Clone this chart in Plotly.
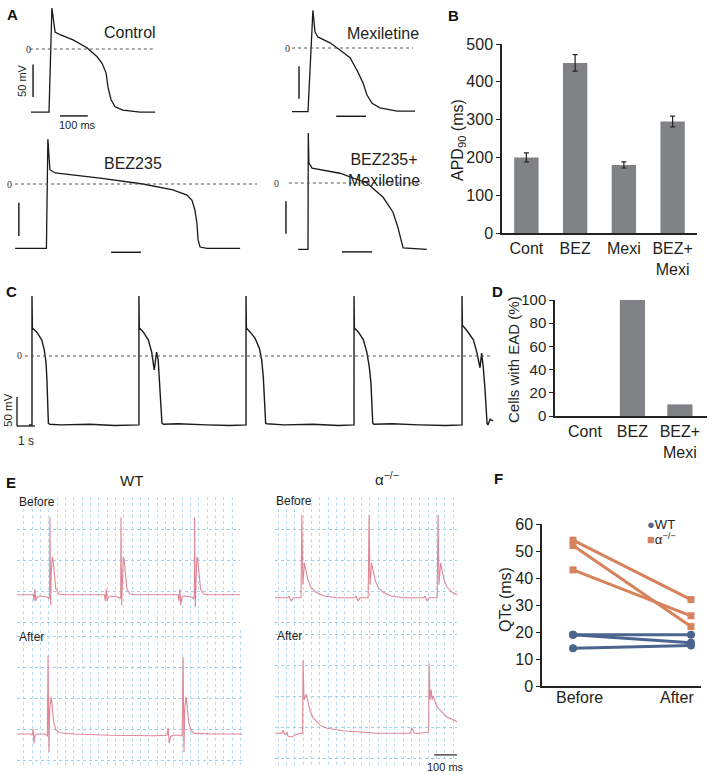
import plotly.graph_objects as go

W, H = 714, 775
SANS = "Arial, 'Liberation Sans', Helvetica, sans-serif"
SERIF = "'Times New Roman', 'Liberation Serif', serif"
INK = "#231f20"

# ---------------- Panel A : action potentials (time ms, Vm mV) ----------------
ctrl_t = [-62, 0, 10, 21, 38, 83, 131, 166, 183, 197, 203, 214, 228, 255, 314, 366]
ctrl_v = [-97, -97, 63, 26, 22, 14, 2, -12, -22, -37, -58, -78, -89, -94, -97, -97]
mexi_t = [-55, 0, 17, 24, 34, 76, 110, 145, 172, 190, 203, 221, 248, 307, 369]
mexi_v = [-98, -98, 58, 25, 17, 8, -3, -15, -37, -54, -72, -85, -92, -97, -97]
bez_t = [-110, -2, 3, 10, 28, 183, 331, 434, 483, 500, 510, 517, 521, 528, 552, 666]
bez_v = [-99, -99, 69, 22, 17, 9, 0, -9, -17, -25, -40, -60, -86, -97, -99, -99]
bezmexi_t = [-34, 0, 1, 3, 14, 110, 203, 259, 293, 310, 321, 328, 410]
bezmexi_v = [-102, -102, 77, 31, 23, 15, 0, -22, -45, -68, -88, -100, -102]

# ---------------- Panel B : APD90 (ms) ----------------
b_cats = ["Cont", "BEZ", "Mexi", "BEZ+<br>Mexi"]
b_vals = [200, 450, 180, 295]
b_err = [12, 22, 8, 14]

# ---------------- Panel C : BEZ235 paced trace (time s, Vm mV) ----------------
c_t = [-0.17, 0.0, 0.0, 0.02, 0.26, 0.54, 0.68, 0.78, 0.83, 0.87, 0.91, 0.98, 1.6, 3.2, 4.6, 5.94,
       5.94, 5.96, 6.18, 6.46, 6.65, 6.79, 6.92, 7.01, 7.11, 7.16, 7.22, 7.3, 8.1, 9.7, 11.0, 11.89,
       11.89, 11.91, 12.11, 12.39, 12.63, 12.76, 12.85, 12.91, 12.95, 12.98, 13.05, 14.0, 15.6, 17.0, 17.89,
       17.89, 17.91, 18.13, 18.41, 18.60, 18.74, 18.83, 18.89, 18.93, 19.0, 20.0, 21.5, 23.0, 23.89,
       23.89, 23.91, 24.15, 24.52, 24.71, 24.85, 24.89, 24.98, 25.07, 25.17, 25.22, 25.28, 25.33, 25.45, 25.61]
c_v = [-123, -123, 107, 50, 43, 29, 11, -12, -43, -91, -120, -122, -123, -122, -124, -123,
       107, 50, 43, 29, 7, -25, 7, -7, -61, -102, -120, -122, -121, -123, -124, -123,
       107, 50, 43, 32, 14, -7, -37, -73, -102, -120, -121, -123, -122, -124, -123,
       107, 50, 43, 29, 7, -20, -48, -84, -120, -122, -121, -123, -124, -123,
       107, 55, 46, 29, 7, -20, -21, 5, -20, -61, -102, -120, -123, -113, -116]

# ---------------- Panel D : cells with EAD (%) ----------------
d_cats = ["Cont", "BEZ", "BEZ+<br>Mexi"]
d_vals = [0, 100, 10]

# ---------------- Panel E : ECG (time ms, mV) ----------------
wt_before_t = [0, 70, 74, 78, 82, 87, 100, 134, 139, 142, 143, 146, 149, 153, 157, 163, 169, 182, 204,
               380, 384, 388, 392, 397, 410, 443, 448, 451, 452, 455, 458, 462, 466, 472, 478, 491, 513,
               700, 704, 708, 712, 717, 730, 763, 768, 771, 772, 775, 778, 782, 786, 792, 798, 811, 833, 970]
wt_before_v = [0.44, 0.44, 0.34, 0.53, 0.34, 0.40, 0.42, 0.40, 0.37, 0.42, 1.69, 0.27, 0.81, 1.05, 1.0, 0.73, 0.53, 0.45, 0.44,
               0.44, 0.34, 0.53, 0.34, 0.40, 0.42, 0.40, 0.37, 0.42, 1.69, 0.27, 0.81, 1.05, 1.0, 0.73, 0.53, 0.45, 0.44,
               0.44, 0.34, 0.53, 0.27, 0.40, 0.42, 0.40, 0.37, 0.42, 1.69, 0.24, 0.81, 1.05, 1.0, 0.73, 0.53, 0.45, 0.44, 0.44]
wt_after_t = [0, 60, 66, 70, 74, 78, 87, 122, 128, 132, 135, 139, 142, 148, 152, 160, 170, 185,
              250, 400, 600, 640, 652, 657, 662, 668, 680, 712, 718, 722, 726, 729, 735, 739, 747, 757, 772, 850, 979]
wt_after_v = [0.42, 0.42, 0.40, 0.50, 0.27, 0.40, 0.42, 0.42, 0.40, 0.38, 1.68, 0.13, 0.80, 1.02, 0.90, 0.60, 0.48, 0.44,
              0.42, 0.40, 0.39, 0.40, 0.40, 0.52, 0.27, 0.38, 0.40, 0.40, 0.38, 1.66, 0.13, 0.80, 1.02, 0.90, 0.60, 0.47, 0.43, 0.42, 0.42]
ko_before_t = [0, 55, 60, 70, 80, 113, 117, 121, 128, 134, 143, 156, 178, 213, 269,
               347, 352, 361, 370, 405, 409, 413, 420, 426, 435, 448, 470, 505, 561,
               647, 652, 661, 670, 705, 709, 713, 720, 726, 735, 748, 770, 796]
ko_before_v = [0.39, 0.39, 0.42, 0.34, 0.39, 0.39, 1.73, 0.60, 0.95, 0.84, 0.68, 0.56, 0.48, 0.42, 0.39,
               0.39, 0.42, 0.34, 0.39, 0.39, 1.73, 0.60, 0.95, 0.84, 0.68, 0.56, 0.48, 0.42, 0.39,
               0.39, 0.42, 0.34, 0.39, 0.39, 1.73, 0.60, 0.95, 0.84, 0.68, 0.56, 0.48, 0.43]
ko_after_t = [0, 30, 35, 43, 52, 57, 74, 87, 109, 120, 122, 126, 130, 135, 144, 152, 165, 196, 226, 296,
              370, 444, 574, 587, 596, 605, 631, 661, 668, 670, 674, 679, 683, 687, 696, 705, 748, 796]
ko_after_v = [0.40, 0.40, 0.45, 0.37, 0.42, 0.35, 0.34, 0.37, 0.40, 0.40, 1.58, 0.94, 0.98, 1.03, 0.90, 0.77, 0.65, 0.53, 0.48, 0.44,
              0.42, 0.40, 0.40, 0.40, 0.48, 0.40, 0.40, 0.42, 0.42, 1.53, 0.94, 1.10, 0.94, 1.0, 0.89, 0.82, 0.66, 0.58]

# ---------------- Panel F : QTc (ms) ----------------
f_x = [0, 1]
f_labels = ["Before", "After"]
f_ko = [[54, 32], [52, 22], [43, 26]]
f_wt = [[19, 19], [19, 16], [14, 15]]

# ============================================================================
fig = go.Figure()
layout = dict(width=W, height=H, margin=dict(l=0, r=0, t=0, b=0, pad=0, autoexpand=False), autosize=False,
              paper_bgcolor="white", plot_bgcolor="rgba(0,0,0,0)", showlegend=False,
              font=dict(family=SANS, color=INK))
shapes, annotations = [], []


def dom(l, t, r, b):
    return [l / W, r / W], [1 - b / H, 1 - t / H]


def phys_axes(n, box, origin, sx, sy, grid=None):
    l, t, r, b = box
    ox, oy = origin
    dx, dy = dom(l, t, r, b)
    xr = [(l - ox) / sx, (r - ox) / sx]
    yr = [(oy - b) / sy, (oy - t) / sy]
    sfx = "" if n == 1 else str(n)
    xa = dict(domain=dx, range=xr, anchor="y" + sfx, visible=False, fixedrange=True, automargin=False)
    ya = dict(domain=dy, range=yr, anchor="x" + sfx, visible=False, fixedrange=True, automargin=False)
    if grid is not None:
        gx0, gdx, gdy = grid
        common = dict(visible=True, showgrid=True, griddash="dot", gridwidth=1,
                      showticklabels=False, ticks="", zeroline=False, showline=False)
        xa.update(common, tick0=gx0, dtick=gdx, gridcolor="#b8def4")
        ya.update(common, tick0=0, dtick=gdy, gridcolor="#9bd0ef")
    layout["xaxis" + sfx] = xa
    layout["yaxis" + sfx] = ya
    return "x" + sfx, "y" + sfx


def line(xref, yref, x0, y0, x1, y1, color="black", width=1.2, dash="solid"):
    shapes.append(dict(type="line", xref=xref, yref=yref, x0=x0, y0=y0, x1=x1, y1=y1,
                       line=dict(color=color, width=width, dash=dash), layer="above"))


def text(t, x, y, xref="paper", yref="paper", size=14, angle=0, family=SANS, bold=False,
         xanchor="center", color=INK):
    if xref == "paper":
        x = x / W
    if yref == "paper":
        y = 1 - y / H
    annotations.append(dict(text=("<b>%s</b>" % t) if bold else t, x=x, y=y, xref=xref, yref=yref,
                            showarrow=False, textangle=angle, xanchor=xanchor, yanchor="middle",
                            font=dict(family=family, size=size, color=color)))


# ---- Panel A ----
AP_SX, AP_SY = 0.29, 0.65
a_specs = [
    (1, (20, 0, 165, 130), (49, 49), ctrl_t, ctrl_v),
    (2, (280, 0, 425, 130), (308, 48), mexi_t, mexi_v),
    (3, (0, 130, 262, 262), (47, 184), bez_t, bez_v),
    (4, (270, 130, 432, 262), (308, 183), bezmexi_t, bezmexi_v),
]
a_axes = {}
for n, box, org, tt, vv in a_specs:
    xr, yr = phys_axes(n, box, org, AP_SX, AP_SY)
    a_axes[n] = (xr, yr)
    fig.add_trace(go.Scatter(x=tt, y=vv, mode="lines", line=dict(color="#1a1a1a", width=1.3),
                             xaxis=xr, yaxis=yr, hoverinfo="skip"))

# zero lines, scale bars and labels for A
zero_a = {1: (-66, 366), 2: (-55, 362), 3: (-110, 724), 4: (-66, 393)}
zero_lbl = {1: -72, 2: -69, 3: -128, 4: -107}
vbar = {1: (-55, -74, -24), 2: (-31, -78, -28), 3: (-97, -80, -29), 4: (-76, -78, -28)}
hbar = {1: (38, 134, -103), 2: (97, 200, -105), 3: (221, 324, -105), 4: (117, 221, -106)}
for n in (1, 2, 3, 4):
    xr, yr = a_axes[n]
    line(xr, yr, zero_a[n][0], 0, zero_a[n][1], 0, color="#555", width=1, dash="dot")
    text("0", zero_lbl[n], 0, xr, yr, size=10, family=SERIF, color="#333")
    vx, v0, v1 = vbar[n]
    line(xr, yr, vx, v0, vx, v1, width=1.3)
    h0, h1, hy = hbar[n]
    line(xr, yr, h0, hy, h1, hy, width=1.3)
text("50 mV", -93, -49, "x", "y", size=11, angle=-90)
text("100 ms", 97, -117, "x", "y", size=11)
text("Control", 279, 25, "x", "y", size=16)
text("Mexiletine", 259, 23, "x2", "y2", size=16)
text("BEZ235", 297, 32, "x3", "y3", size=16)
text("BEZ235+<br>Mexiletine", 262, 20, "x4", "y4", size=16)

# ---- Panel B ----
dx, dy = dom(502, 44, 697, 233)
fig.add_trace(go.Bar(x=b_cats, y=b_vals, width=0.5, marker=dict(color="#808285", line=dict(width=0)),
                     error_y=dict(type="data", array=b_err, color="#222", thickness=1.2, width=2.5),
                     xaxis="x5", yaxis="y5", hoverinfo="skip"))
layout["xaxis5"] = dict(domain=dx, anchor="y5", type="category", range=[-0.5, 3.5], showline=True,
                        linecolor="#222", linewidth=1.5, ticks="", tickfont=dict(size=16), fixedrange=True,
                        automargin=False)
layout["yaxis5"] = dict(domain=dy, anchor="x5", range=[0, 500], dtick=100, showline=True, linecolor="#222",
                        linewidth=1.5, ticks="outside", ticklen=4, tickcolor="#222", showgrid=False,
                        zeroline=False, tickfont=dict(size=16), fixedrange=True, automargin=False)
text("APD<sub>90</sub> (ms)", 458, 140, size=16, angle=-90)

# ---- Panel C ----
xc, yc = phys_axes(6, (0, 285, 500, 452), (32, 356), 18, 0.56)
fig.add_trace(go.Scatter(x=c_t, y=c_v, mode="lines", line=dict(color="#1a1a1a", width=1.4),
                         xaxis=xc, yaxis=yc, hoverinfo="skip"))
line(xc, yc, -0.39, 0, 25.6, 0, color="#555", width=1, dash="dot")
text("0", -0.67, 0, xc, yc, size=10, family=SERIF, color="#333")
line(xc, yc, -0.833, -73, -0.833, -125, width=1.2)
line(xc, yc, -0.833, -125, 0.167, -125, width=1.2)
text("50 mV", -1.3, -97, xc, yc, size=11.5, angle=-90)
text("1 s", -0.33, -152, xc, yc, size=12)

# ---- Panel D ----
dx, dy = dom(555, 300, 707, 416)
fig.add_trace(go.Bar(x=d_cats, y=d_vals, width=0.53, marker=dict(color="#808285", line=dict(width=0)),
                     xaxis="x7", yaxis="y7", hoverinfo="skip"))
layout["xaxis7"] = dict(domain=dx, anchor="y7", type="category", range=[-0.63, 2.57], showline=True,
                        linecolor="#222", linewidth=1.5, ticks="", tickfont=dict(size=16), fixedrange=True,
                        automargin=False)
layout["yaxis7"] = dict(domain=dy, anchor="x7", range=[0, 100], dtick=20, showline=True, linecolor="#222",
                        linewidth=1.5, ticks="outside", ticklen=4, tickcolor="#222", showgrid=False,
                        zeroline=False, tickfont=dict(size=15), fixedrange=True, automargin=False)
text("Cells with EAD (%)", 513, 360, size=15, angle=-90)

# ---- Panel E ----
ECG_SX, ECG_SY = 0.23, 62
ecg_color = "#e08797"
e_specs = [
    (8, (17, 497, 240, 626), (17, 622), 30, wt_before_t, wt_before_v),
    (9, (17, 630, 242, 766), (17, 760), 30, wt_after_t, wt_after_v),
    (10, (275, 497, 457, 626), (275, 622), 14.5, ko_before_t, ko_before_v),
    (11, (275, 630, 457, 766), (275, 758), 14.5, ko_after_t, ko_after_v),
]
for n, box, org, g0, tt, vv in e_specs:
    xr, yr = phys_axes(n, box, org, ECG_SX, ECG_SY, grid=(g0, 36.2, 0.5))
    fig.add_trace(go.Scatter(x=tt, y=vv, mode="lines", line=dict(color=ecg_color, width=1.1),
                             xaxis=xr, yaxis=yr, hoverinfo="skip"))
line("x11", "y11", 692, 0.05, 792, 0.05, color="#222", width=1.2)
text("100 ms", 445, 767, size=11)
text("Before", 17, 502, size=12, xanchor="left")
text("After", 17, 637, size=12, xanchor="left")
text("Before", 274, 501, size=12, xanchor="left")
text("After", 275, 636, size=12, xanchor="left")
text("WT", 131, 480, size=15)
text("α<sup>−/−</sup>", 387, 478, size=15)

# ---- Panel F ----
dx, dy = dom(542, 524, 701, 686)
for pair in f_ko:
    fig.add_trace(go.Scatter(x=f_x, y=pair, mode="lines+markers", xaxis="x12", yaxis="y12",
                             line=dict(color="#d6835c", width=3),
                             marker=dict(symbol="square", size=7, color="#d6835c"), hoverinfo="skip"))
for pair in f_wt:
    fig.add_trace(go.Scatter(x=f_x, y=pair, mode="lines+markers", xaxis="x12", yaxis="y12",
                             line=dict(color="#4c658f", width=3),
                             marker=dict(symbol="circle", size=8, color="#4c658f"), hoverinfo="skip"))
layout["xaxis12"] = dict(domain=dx, anchor="y12", range=[-0.263, 1.085], showticklabels=False,
                         showline=True, linecolor="#222", linewidth=1.5,
                         ticks="", showgrid=False, zeroline=False, fixedrange=True, automargin=False)
layout["yaxis12"] = dict(domain=dy, anchor="x12", range=[0, 60], dtick=10, showline=True, linecolor="#222",
                         linewidth=1.5, ticks="outside", ticklen=4, tickcolor="#222", showgrid=False,
                         zeroline=False, tickfont=dict(size=16), fixedrange=True, automargin=False)
text(f_labels[0], 579, 697, size=16)
text(f_labels[1], 677, 697, size=16)
text("QTc (ms)", 505, 600, size=16, angle=-90)
text("<span style='color:#4c658f'>●</span>WT", 645, 524, size=13, xanchor="left")
text("<span style='color:#d6835c'>■</span>α<sup>−/−</sup>", 645, 539, size=13, xanchor="left")

# ---- panel letters ----
for lt, x, y in [("A", 12, 14), ("B", 453, 15), ("C", 11, 291), ("D", 497, 291), ("E", 11, 482), ("F", 498, 478)]:
    text(lt, x, y, size=15, bold=True, color="#111")

layout["shapes"] = shapes
layout["annotations"] = annotations
fig.update_layout(**layout)
fig.write_html("out.html", config={"displayModeBar": False},
               post_script="document.body.style.margin='0';document.body.style.overflow='hidden';")
